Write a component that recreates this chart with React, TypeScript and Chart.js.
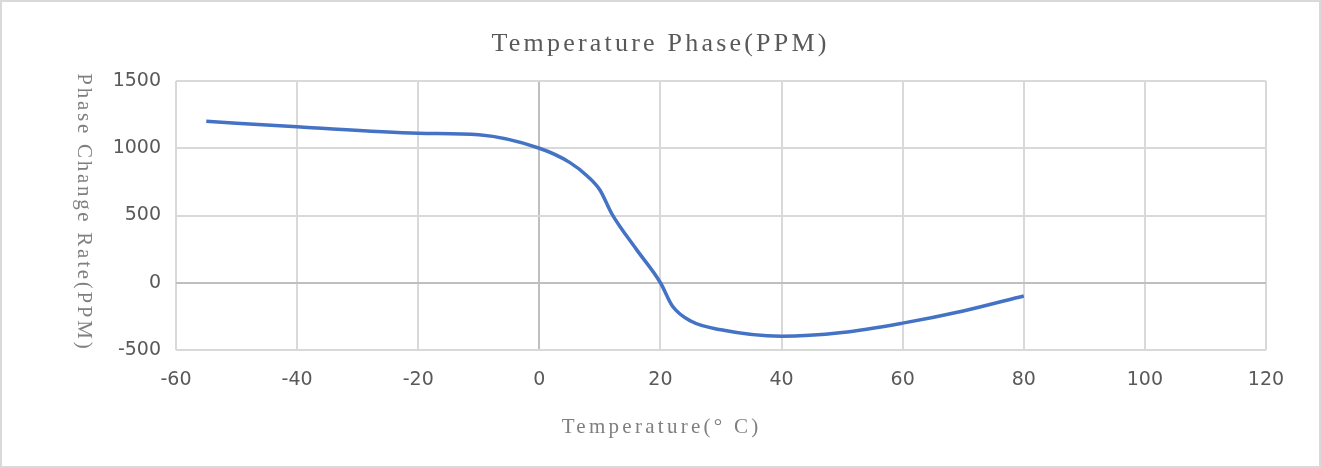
import React, { useEffect, useRef } from "react";
import { Chart, registerables } from "chart.js";

Chart.register(...registerables);

const temperatures = [-55, -40, -20, -10, 0, 5, 8, 10, 12, 16, 20, 22, 25, 30, 40, 50, 60, 70, 80];
const phaseRates = [1200, 1160, 1112, 1100, 1000, 895, 790, 690, 510, 250, 0, -175, -285, -350, -398, -370, -300, -210, -98];
const xTicks = [-60, -40, -20, 0, 20, 40, 60, 80, 100, 120];
const yTicks = [-500, 0, 500, 1000, 1500];

const chartTitle = "Temperature Phase(PPM)";
const xTitle = "Temperature(° C)";
const yTitle = "Phase Change Rate(PPM)";

const W = 1321;
const H = 468;
const TEXT = "#595959";
const GRID = "#d9d9d9";
const AXIS = "#bfbfbf";
const SANS = "'DejaVu Sans', sans-serif";
const SERIF = "'Liberation Serif', serif";

function spacedText(ctx: any, text: string, x: number, y: number, target: number) {
  ctx.letterSpacing = "0px";
  const w = ctx.measureText(text).width;
  const sp = (target - w) / text.length;
  ctx.letterSpacing = `${sp}px`;
  // letterSpacing adds trailing space after last glyph; compensate to keep centered
  ctx.fillText(text, x + sp / 2, y);
  ctx.letterSpacing = "0px";
}

export default function App() {
  const ref = useRef<HTMLCanvasElement | null>(null);

  useEffect(() => {
    document.body.style.margin = "0";
    const canvas = ref.current;
    if (!canvas) return;

    const decor = {
      id: "decor",
      afterDraw(chart: any) {
        const ctx = chart.ctx;
        ctx.save();
        ctx.strokeStyle = GRID;
        ctx.lineWidth = 2;
        ctx.strokeRect(1, 1, W - 2, H - 2);
        ctx.textAlign = "center";
        ctx.textBaseline = "middle";
        // chart title
        ctx.fillStyle = TEXT;
        ctx.font = `26px ${SERIF}`;
        spacedText(ctx, chartTitle, 659, 44, 338);
        // x title
        ctx.fillStyle = "#7f7f7f";
        ctx.font = `21px ${SERIF}`;
        spacedText(ctx, xTitle, 660, 427, 200);
        // y axis title rotated clockwise
        ctx.translate(84, 211);
        ctx.rotate(Math.PI / 2);
        ctx.font = `21px ${SERIF}`;
        spacedText(ctx, yTitle, 0, 0, 278);
        ctx.restore();
      },
    };

    const chart = new Chart(canvas, {
      type: "line",
      data: {
        datasets: [
          {
            data: temperatures.map((t, i) => ({ x: t, y: phaseRates[i] })),
            borderColor: "#4472c4",
            backgroundColor: "#4472c4",
            borderWidth: 3.5,
            pointRadius: 0,
            tension: 0.4,
            cubicInterpolationMode: "monotone",
            fill: false,
          },
        ],
      },
      options: {
        animation: false,
        responsive: false,
        maintainAspectRatio: false,
        layout: { padding: { left: 0, right: 55, top: 81, bottom: 0 } },
        plugins: {
          legend: { display: false },
          tooltip: { enabled: false },
          title: { display: false },
        },
        scales: {
          x: {
            type: "linear",
            min: -60,
            max: 120,
            afterBuildTicks: (scale: any) => {
              scale.ticks = xTicks.map((v) => ({ value: v }));
            },
            afterFit: (scale: any) => {
              scale.height = H - 350;
            },
            ticks: {
              color: TEXT,
              font: { family: SANS, size: 19 },
              padding: 19,
              maxRotation: 0,
              autoSkip: false,
              callback: (v: any) => String(v),
            },
            grid: {
              color: (c: any) => (c.tick && c.tick.value === 0 ? AXIS : GRID),
              lineWidth: 2,
              drawTicks: false,
            },
            border: { display: false },
            title: { display: false },
          },
          y: {
            type: "linear",
            min: -500,
            max: 1500,
            afterBuildTicks: (scale: any) => {
              scale.ticks = yTicks.map((v) => ({ value: v }));
            },
            afterFit: (scale: any) => {
              scale.width = 176;
            },
            ticks: {
              color: TEXT,
              font: { family: SANS, size: 19 },
              padding: 15,
              callback: (v: any) => String(v),
            },
            grid: {
              color: (c: any) => (c.tick && c.tick.value === 0 ? AXIS : GRID),
              lineWidth: 2,
              drawTicks: false,
            },
            border: { display: false },
            title: { display: false },
          },
        },
      },
      plugins: [decor],
    } as any);

    return () => chart.destroy();
  }, []);

  return (
    <div style={{ width: W, height: H, background: "#fff" }}>
      <canvas ref={ref} width={W} height={H} style={{ display: "block", width: W, height: H }} />
    </div>
  );
}
